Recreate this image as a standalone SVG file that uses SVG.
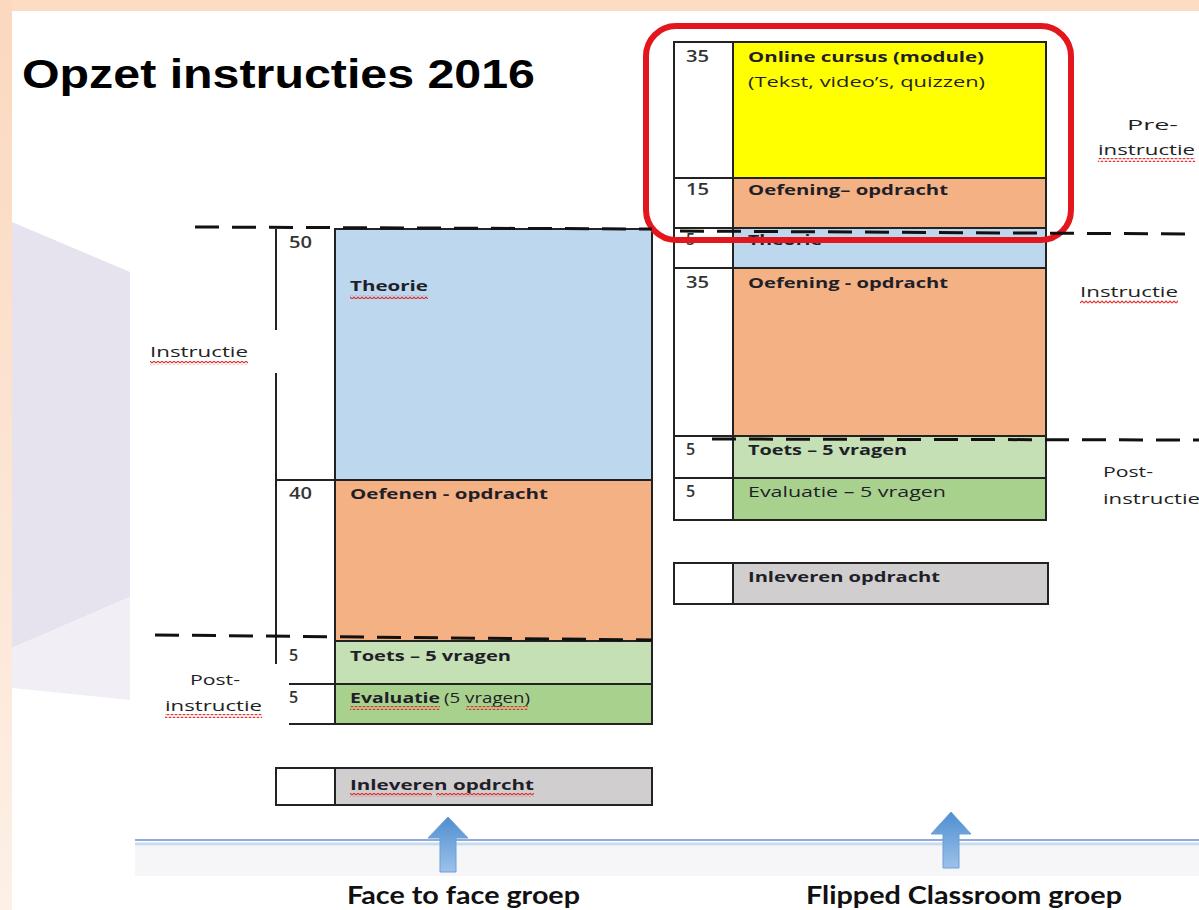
<svg xmlns="http://www.w3.org/2000/svg" width="1199" height="910" viewBox="0 0 1199 910">
<defs>
<linearGradient id="peach" x1="0" y1="0" x2="0" y2="1">
<stop offset="0" stop-color="#FBD8BE"/><stop offset="1" stop-color="#FDF0E6"/>
</linearGradient>
<linearGradient id="arrowGrad" x1="0" y1="0" x2="0" y2="1">
<stop offset="0" stop-color="#4F8ED0"/><stop offset="1" stop-color="#9CC2EA"/>
</linearGradient>
<pattern id="squig" width="4" height="4" patternUnits="userSpaceOnUse">
<path d="M0 3 L2 1 L4 3" fill="none" stroke="#E03030" stroke-width="1.1"/>
</pattern>
<style>
.box{stroke:#222;stroke-width:2}
.num{fill:#fff}
.blue{fill:#BDD7EE}
.orange{fill:#F4B183}
.yellow{fill:#FFFF00}
.lgreen{fill:#C5E0B4}
.green{fill:#A9D18E}
.gray{fill:#D0CECE}
.t{font-family:"Open Sans","Liberation Sans",sans-serif;font-size:15px;fill:#1f1f2a}
.b{font-weight:bold}
.n{font-family:"Open Sans","Liberation Sans",sans-serif;font-size:16px;font-weight:600;fill:#333}
.lab{font-family:"Open Sans","Liberation Sans",sans-serif;font-size:15px;fill:#222}
.dash{stroke:#111;stroke-width:3;stroke-dasharray:24 13;fill:none}
.sq{fill:url(#squig)}
.cap{font-family:"Lato","Open Sans",sans-serif;font-weight:bold;font-size:25px;fill:#111}
</style>
</defs>

<!-- background -->
<rect x="0" y="0" width="1199" height="910" fill="#fff"/>
<rect x="0" y="0" width="1199" height="11" fill="#FCDCC3"/>
<rect x="0" y="0" width="12" height="910" fill="url(#peach)"/>
<polygon points="12,222 130,272 130,597 12,648" fill="#E6E3EF"/>
<polygon points="12,648 130,597 130,700 12,688" fill="#F1EFF5"/>
<rect x="135" y="846" width="1064" height="30" fill="#F6F6F8"/>
<line x1="135" y1="840" x2="1199" y2="840" stroke="#8FAADC" stroke-width="2"/>
<line x1="135" y1="844" x2="1199" y2="844" stroke="#C9DBF0" stroke-width="3"/>

<text x="22" y="88" font-family="Liberation Sans, Arial, sans-serif" font-weight="bold" font-size="40" fill="#000" textLength="513" lengthAdjust="spacingAndGlyphs">Opzet instructies 2016</text>

<!-- Face to face column -->
<g id="f2f-theorie">
<rect class="blue box" x="335" y="229" width="317" height="251"/>
<text class="t b" x="350" y="291" textLength="78" lengthAdjust="spacingAndGlyphs">Theorie</text>
<rect class="sq" x="350" y="295" width="78" height="4"/>
<text class="n" x="289" y="248" textLength="23" lengthAdjust="spacingAndGlyphs">50</text>
</g>
<g id="f2f-oefenen">
<rect class="orange box" x="335" y="480" width="317" height="161"/>
<line x1="276" y1="480" x2="335" y2="480" stroke="#222" stroke-width="2"/>
<text class="t b" x="350" y="499" textLength="198" lengthAdjust="spacingAndGlyphs">Oefenen - opdracht</text>
<text class="n" x="289" y="499" textLength="23" lengthAdjust="spacingAndGlyphs">40</text>
</g>
<g id="f2f-toets">
<rect class="lgreen box" x="335" y="641" width="317" height="43"/>
<text class="t b" x="350" y="661" textLength="161" lengthAdjust="spacingAndGlyphs">Toets – 5 vragen</text>
<text class="n" x="289" y="661">5</text>
</g>
<g id="f2f-evaluatie">
<rect class="green box" x="335" y="684" width="317" height="40"/>
<line x1="289" y1="684" x2="335" y2="684" stroke="#222" stroke-width="2"/>
<line x1="289" y1="724" x2="335" y2="724" stroke="#222" stroke-width="2"/>
<text class="t b" x="350" y="703" textLength="90" lengthAdjust="spacingAndGlyphs">Evaluatie</text>
<text class="t" x="444" y="703" font-size="12" textLength="86" lengthAdjust="spacingAndGlyphs">(5 vragen)</text>
<rect class="sq" x="350" y="706" width="90" height="4"/>
<rect class="sq" x="466" y="706" width="62" height="4"/>
<text class="n" x="289" y="703">5</text>
</g>
<g id="f2f-numcol">
<line x1="276" y1="229" x2="276" y2="330" stroke="#222" stroke-width="2"/>
<line x1="276" y1="373" x2="276" y2="664" stroke="#222" stroke-width="2"/>
</g>
<g id="f2f-inleveren">
<rect class="num box" x="276" y="768" width="59" height="37"/>
<rect class="gray box" x="335" y="768" width="317" height="37"/>
<text class="t b" x="350" y="790" textLength="184" lengthAdjust="spacingAndGlyphs">Inleveren opdrcht</text>
<rect class="sq" x="350" y="793" width="82" height="4"/>
<rect class="sq" x="436" y="793" width="98" height="4"/>
</g>
<g id="f2f-labels">
<text class="lab" x="150" y="357" textLength="98" lengthAdjust="spacingAndGlyphs">Instructie</text>
<rect class="sq" x="150" y="361" width="98" height="4"/>
<text class="lab" x="190" y="685" textLength="50" lengthAdjust="spacingAndGlyphs">Post-</text>
<text class="lab" x="165" y="711" textLength="97" lengthAdjust="spacingAndGlyphs">instructie</text>
<rect class="sq" x="165" y="714" width="97" height="4"/>
</g>

<!-- Flipped column -->
<g id="fc-online">
<rect class="num box" x="674" y="42" width="59" height="136"/>
<rect class="yellow box" x="733" y="42" width="313" height="136"/>
<text class="t b" x="748" y="62" textLength="236" lengthAdjust="spacingAndGlyphs">Online cursus (module)</text>
<text class="t" x="748" y="87" textLength="237" lengthAdjust="spacingAndGlyphs">(Tekst, video’s, quizzen)</text>
<text class="n" x="686" y="62" textLength="23" lengthAdjust="spacingAndGlyphs">35</text>
</g>
<g id="fc-oefening1">
<rect class="num box" x="674" y="178" width="59" height="50"/>
<rect class="orange box" x="733" y="178" width="313" height="50"/>
<text class="t b" x="748" y="195" textLength="200" lengthAdjust="spacingAndGlyphs">Oefening– opdracht</text>
<text class="n" x="686" y="195" textLength="23" lengthAdjust="spacingAndGlyphs">15</text>
</g>
<g id="fc-theorie">
<rect class="num box" x="674" y="228" width="59" height="40"/>
<rect class="blue box" x="733" y="228" width="313" height="40"/>
<text class="t b" x="748" y="245" textLength="74" lengthAdjust="spacingAndGlyphs">Theorie</text>
<text class="n" x="686" y="245">5</text>
</g>
<g id="fc-oefening2">
<rect class="num box" x="674" y="268" width="59" height="168"/>
<rect class="orange box" x="733" y="268" width="313" height="168"/>
<text class="t b" x="748" y="288" textLength="200" lengthAdjust="spacingAndGlyphs">Oefening - opdracht</text>
<text class="n" x="686" y="288" textLength="23" lengthAdjust="spacingAndGlyphs">35</text>
</g>
<g id="fc-toets">
<rect class="num box" x="674" y="436" width="59" height="42"/>
<rect class="lgreen box" x="733" y="436" width="313" height="42"/>
<text class="t b" x="748" y="455" textLength="159" lengthAdjust="spacingAndGlyphs">Toets – 5 vragen</text>
<text class="n" x="686" y="455">5</text>
</g>
<g id="fc-evaluatie">
<rect class="num box" x="674" y="478" width="59" height="42"/>
<rect class="green box" x="733" y="478" width="313" height="42"/>
<text class="t" x="748" y="497" textLength="198" lengthAdjust="spacingAndGlyphs">Evaluatie – 5 vragen</text>
<text class="n" x="686" y="497">5</text>
</g>
<g id="fc-inleveren">
<rect class="num box" x="674" y="563" width="59" height="41"/>
<rect class="gray box" x="733" y="563" width="315" height="41"/>
<text class="t b" x="748" y="582" textLength="192" lengthAdjust="spacingAndGlyphs">Inleveren opdracht</text>
</g>
<g id="fc-labels">
<text class="lab" x="1127" y="130" textLength="51" lengthAdjust="spacingAndGlyphs">Pre-</text>
<text class="lab" x="1098" y="155" textLength="97" lengthAdjust="spacingAndGlyphs">instructie</text>
<rect class="sq" x="1098" y="158" width="97" height="4"/>
<text class="lab" x="1080" y="297" textLength="98" lengthAdjust="spacingAndGlyphs">Instructie</text>
<rect class="sq" x="1080" y="300" width="98" height="4"/>
<text class="lab" x="1103" y="477" textLength="50" lengthAdjust="spacingAndGlyphs">Post-</text>
<text class="lab" x="1103" y="504" textLength="97" lengthAdjust="spacingAndGlyphs">instructie</text>
</g>

<!-- highlight -->
<g id="highlight">
<rect x="646" y="26" width="425" height="214" rx="30" ry="30" fill="none" stroke="#E3151D" stroke-width="6"/>
</g>

<!-- connectors / phase separators / arrows -->
<g id="connectors">
<line class="dash" x1="195" y1="227" x2="652" y2="229"/>
<line class="dash" x1="680" y1="231" x2="1190" y2="234"/>
<line class="dash" x1="155" y1="635" x2="652" y2="640"/>
<line class="dash" x1="712" y1="439" x2="1199" y2="440"/>
<path d="M448 817 L468 838 L456 838 L456 872 L440 872 L440 838 L428 838 Z" fill="url(#arrowGrad)" stroke="#6A9FD6" stroke-width="1"/>
<path d="M951 812 L971 834 L959 834 L959 868 L943 868 L943 834 L931 834 Z" fill="url(#arrowGrad)" stroke="#6A9FD6" stroke-width="1"/>
</g>

<g id="captions">
<text class="cap" x="347" y="904" textLength="233" lengthAdjust="spacingAndGlyphs">Face to face groep</text>
<text class="cap" x="806" y="904" textLength="316" lengthAdjust="spacingAndGlyphs">Flipped Classroom groep</text>
</g>
</svg>
